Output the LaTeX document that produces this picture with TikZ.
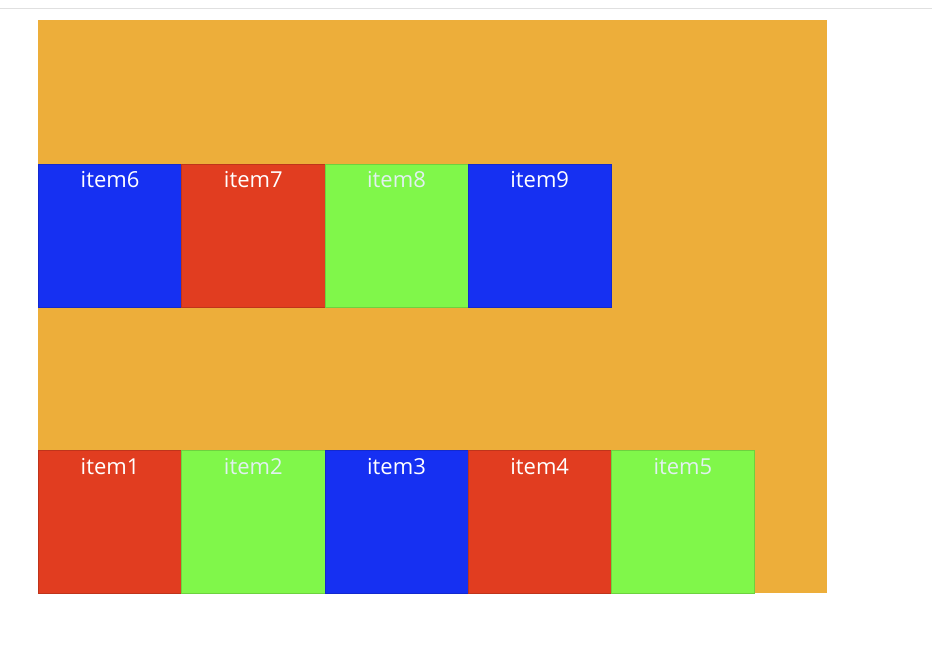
\documentclass[tikz,border=0pt]{standalone}
\usepackage{fontspec}
\setmainfont{Open Sans}
\usetikzlibrary{positioning}
\definecolor{flexbg}{RGB}{237,174,58}
\definecolor{itemred}{RGB}{225,61,32}
\definecolor{itemgreen}{RGB}{128,247,74}
\definecolor{itemblue}{RGB}{22,48,242}
\definecolor{softtext}{RGB}{225,240,240}
\tikzset{
  itembox/.style={draw=#1!85!black, fill=#1, line width=0.8pt, minimum size=143.2pt,
    inner sep=0pt, outer sep=0pt},
  itemlbl/.style={anchor=base, yshift=-24pt, label distance=0pt,
    font=\fontsize{22}{24}\selectfont, text=#1},
}
\begin{document}
\begin{tikzpicture}[x=1pt,y=-1pt,node distance=0pt]
        \useasboundingbox[fill=white] (0,0) rectangle (932,650);
        \draw[black!12, line width=1.2pt] (0,8.5) -- (932,8.5);
        % Container
        \fill[flexbg] (38,20.5) rectangle (827,593);
        % Second line of items
        \node[itembox=itemblue, anchor=north west, label={[itemlbl=white]north:item6}] (item6) at (38.5,164) {};
        \node[itembox=itemred, right=of item6, label={[itemlbl=white]north:item7}] (item7) {};
        \node[itembox=itemgreen, right=of item7, label={[itemlbl=softtext]north:item8}] (item8) {};
        \node[itembox=itemblue, right=of item8, label={[itemlbl=white]north:item9}] (item9) {};
        % First line of items
        \node[itembox=itemred, anchor=north west, label={[itemlbl=white]north:item1}] (item1) at (38.5,450.5) {};
        \node[itembox=itemgreen, right=of item1, label={[itemlbl=softtext]north:item2}] (item2) {};
        \node[itembox=itemblue, right=of item2, label={[itemlbl=white]north:item3}] (item3) {};
        \node[itembox=itemred, right=of item3, label={[itemlbl=white]north:item4}] (item4) {};
        \node[itembox=itemgreen, right=of item4, label={[itemlbl=softtext]north:item5}] (item5) {};
    \end{tikzpicture}
\end{document}
